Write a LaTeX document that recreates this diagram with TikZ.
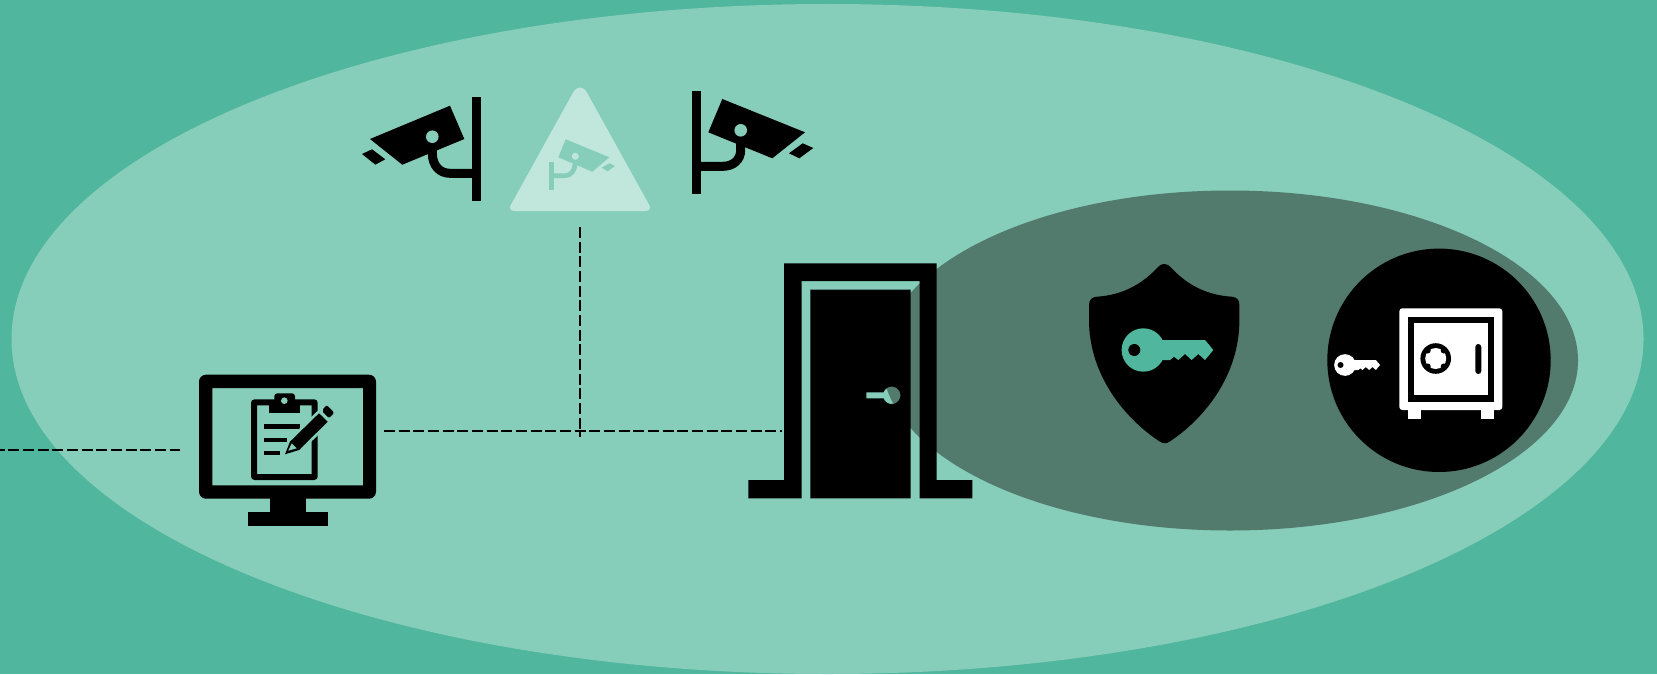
\documentclass[tikz,border=0pt]{standalone}
\usepackage{xcolor}
\usepackage{tikz}
\definecolor{tteal}{HTML}{50B69E}
\definecolor{tmint}{HTML}{86CDBA}
\definecolor{tslate}{HTML}{527A6D}
\definecolor{tpale}{HTML}{C1E6DC}
% key drawn round its bow: position, scale, colour
\newcommand{\keyicon}[3]{%
  \begin{scope}[shift={#1}, scale=#2]
    \fill[#3] (0,0) circle[radius=21.7];
    \fill[#3] (16.7,-10) -- (61.7,-10) -- (70,0) -- (61.7,10) -- (55,4) -- (48.3,10) -- (41.7,4)
      -- (35,10) -- (30.7,6.7) -- (26.7,10) -- (16.7,10) -- cycle;
    \fill[black] (-9,0) circle[radius=6];
  \end{scope}}

\begin{document}
\begin{tikzpicture}[x=0.5pt, y=-0.5pt,
  wire/.style={draw=black, line width=0.65pt, dash pattern=on 5.5pt off 1.83pt},
  arm/.style={draw=black, line width=4.5pt},
  penciledge/.style={fill=black, preaction={draw=tmint, line width=2.7pt}}]
\useasboundingbox (0,0) rectangle (1657,674);
\fill[tteal] (0,0) rectangle (1657,674);
\fill[tmint] (827.5,339) ellipse[x radius=816, y radius=335];
\fill[tslate] (1230,360.5) ellipse[x radius=348, y radius=170];

% left camera
\fill (471.7,97.3) rectangle (481,200.7);
\draw[arm] (432.3,150) -- (432.3,153) .. controls (432.3,166) and (440,173.3) .. (450,173.3) -- (475,173.3);
\fill (370,139) -- (450,105.7) -- (464.3,139) -- (402.3,164.7) -- cycle;
\fill[tmint] (432.3,136.7) circle[radius=6.3];
\fill (362,154) -- (372,149.3) -- (385.3,159.3) -- (375.3,164.7) -- cycle;

% warning sign
\fill[tpale] (580,211) [rounded corners=3.5pt] -- (652.5,211) [rounded corners=7.3pt] -- (580,80)
  [rounded corners=3.5pt] -- (507.5,211) -- cycle;
\fill[tmint] (549,161.7) rectangle (554,190);
\draw[tmint, line width=2.35pt] (575.3,160) .. controls (575.3,171) and (571,175.7) .. (565,175.7) -- (552,175.7);
\fill[tmint] (565.7,139.3) -- (609.3,157.3) -- (592.3,171.7) -- (558.3,157.3) -- cycle;
\fill[tpale] (575.3,156.3) circle[radius=3.5];
\fill[tmint] (601.7,167.7) -- (609.3,163.3) -- (615,166) -- (607.7,171.3) -- cycle;

% right camera
\fill (691.7,91) rectangle (701,194.3);
\draw[arm] (740.7,140) -- (740.7,150) .. controls (740.7,160) and (733,166.3) .. (723,166.3) -- (698,166.3);
\fill (722.3,99) -- (805,132.3) -- (772.3,158.3) -- (708.3,132.3) -- cycle;
\fill[tmint] (740.7,130.3) circle[radius=6.3];
\fill (789,153.3) -- (802.7,143.3) -- (813.3,148) -- (799.3,158.3) -- cycle;

% dashed links
\coordinate (feedstart) at (0,450);
\coordinate (feedend) at (180,450);
\coordinate (linkstart) at (384,431);
\coordinate (linkend) at (781.7,431);
\coordinate (signfoot) at (580,227);
\coordinate (signdrop) at (580,437.3);
\draw[wire, dash phase=3.2pt] (feedstart) -- (feedend);
\draw[wire] (linkstart) -- (linkend);
\draw[wire] (signfoot) -- (signdrop);

% monitor with clipboard
\fill[even odd rule, rounded corners=3.5pt] (199,374.7) rectangle (376,498.7)
  [sharp corners] (212.3,388) rectangle (363,485.3);
\fill (269.7,498) rectangle (305.7,512.3);
\fill (247.7,512.3) rectangle (327.7,525.7);
\fill[even odd rule, rounded corners=1.75pt] (251,399.3) rectangle (317.7,480)
  [sharp corners] (257,405.3) rectangle (311.7,474);
\fill[rounded corners=1.5pt] (274.3,393.3) rectangle (295,408);
\fill (269.3,405.3) rectangle (300,412.7);
\fill[tmint] (284.3,400.7) circle[radius=3.3];
\fill (264,424.3) rectangle (300,429);
\fill (264,437.7) rectangle (286.7,442.3);
\fill (264,450.7) rectangle (280,455);
\path[penciledge] (285,454.3) -- (290,441.7) -- (319,413.3) -- (327.7,421.7) -- (299,450) -- cycle;
\fill[tmint] (288.3,450.7) -- (291.7,443.3) -- (296.7,448.3) -- cycle;
\path[penciledge, rounded corners=1pt] (321.7,410.7) -- (326.7,405) -- (334.3,412.7) -- (329,418.3) -- cycle;

% door
\fill (784,263.3) -- (936.7,263.3) -- (936.7,480) -- (972.3,480) -- (972.3,498.3) -- (919.7,498.3)
  -- (919.7,281) -- (801.7,281) -- (801.7,498.3) -- (748.3,498.3) -- (748.3,480) -- (784,480) -- cycle;
\fill[even odd rule] (810.3,289.7) rectangle (910.7,498.3)
  (866.3,392.3) -- plot[domain=200:520, samples=40] ({891.7+8.7*cos(\x)},{395.3+8.7*sin(\x)})
  -- (866.3,398.3) -- cycle;

% shield
\fill (1164.7,264) .. controls (1161,264) and (1159.3,265.7) .. (1157.3,267.7)
  .. controls (1144,282) and (1125,295) .. (1096.7,296.7)
  .. controls (1091.7,297) and (1089,300) .. (1089,305) -- (1089,320)
  .. controls (1089,376.7) and (1126.7,420) .. (1160,441.7)
  .. controls (1162.7,443.7) and (1166.7,443.7) .. (1169.4,441.7)
  .. controls (1202.7,420) and (1239.4,376.7) .. (1239.4,320) -- (1239.4,305)
  .. controls (1239.4,300) and (1236.7,297) .. (1231.7,296.7)
  .. controls (1203.4,295) and (1184.4,282) .. (1171.1,267.7)
  .. controls (1169.1,265.7) and (1167.4,264) .. cycle;
\keyicon{(1143.3,350)}{1}{tteal}

% safe with key
\fill (1439,360.3) circle[radius=111.7];
\keyicon{(1345,365)}{0.5}{white}
\fill[white, rounded corners=1.5pt] (1399.3,308.3) rectangle (1502.3,410);
\fill (1408.3,316.7) rectangle (1493.7,401.7);
\fill[white] (1414.3,322.7) rectangle (1487.7,395.3);
\fill[white] (1408.3,409) rectangle (1420.7,419.3);
\fill[white] (1481.3,409) rectangle (1493.7,419.3);
\fill (1435.7,358.5) circle[radius=15.3];
\fill[white] (1435.7,358.5) circle[radius=10.5];
\fill (1427.7,350.5) circle[radius=3] (1443.7,350.5) circle[radius=3]
  (1427.7,366.5) circle[radius=3] (1443.7,366.5) circle[radius=3];
\fill[rounded corners=1.5pt] (1475.3,344) rectangle (1481.3,374);
\end{tikzpicture}
\end{document}
